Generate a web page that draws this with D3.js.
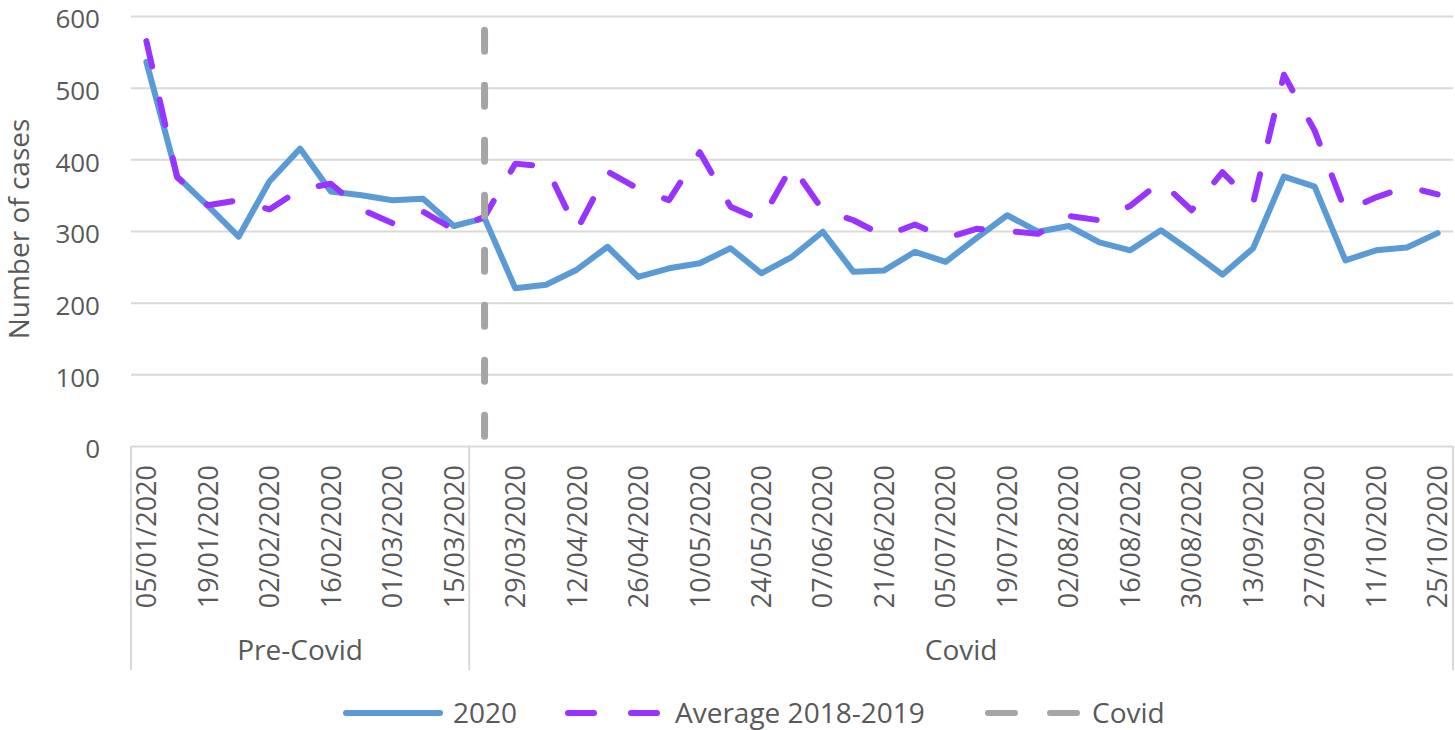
<!DOCTYPE html>
<html>
<head>
<meta charset="utf-8">
<script src="https://cdn.jsdelivr.net/npm/d3@7"></script>
<style>
  html, body { margin: 0; padding: 0; background: #fff; }
  svg text { font-family: "Open Sans", sans-serif; fill: #595959; }
</style>
</head>
<body>
<svg id="chart" width="1455" height="730"></svg>
<script>
// Week starting dates (categories)
const weeks = [
    "05/01/2020", "12/01/2020", "19/01/2020", "26/01/2020", "02/02/2020", "09/02/2020",
    "16/02/2020", "23/02/2020", "01/03/2020", "08/03/2020", "15/03/2020", "22/03/2020",
    "29/03/2020", "05/04/2020", "12/04/2020", "19/04/2020", "26/04/2020", "03/05/2020",
    "10/05/2020", "17/05/2020", "24/05/2020", "31/05/2020", "07/06/2020", "14/06/2020",
    "21/06/2020", "28/06/2020", "05/07/2020", "12/07/2020", "19/07/2020", "26/07/2020",
    "02/08/2020", "09/08/2020", "16/08/2020", "23/08/2020", "30/08/2020", "06/09/2020",
    "13/09/2020", "20/09/2020", "27/09/2020", "04/10/2020", "11/10/2020", "18/10/2020",
    "25/10/2020",
];

// Number of cases, 2020
const cases2020 = [
    536, 376, 335, 292, 369, 415, 355, 350, 343, 345, 307, 318,
    220, 225, 246, 278, 236, 248, 255, 276, 241, 264, 299, 243, 245, 271, 257,
    290, 322, 299, 307, 284, 273, 301, 271, 239, 276, 376, 362, 259, 273, 277, 297,
];

// Average 2018-2019
const casesAvg = [
    565, 375, 336, 343, 330, 358, 366, 330, 311, 327, 302, 320,
    394, 390, 301, 383, 359, 343, 410, 334, 315, 391, 329, 315, 293, 309, 290,
    303, 300, 296, 321, 315, 335, 369, 329, 382, 339, 518, 440, 328, 347, 362, 351,
];

// Period groups on the category axis
const periods = ["Pre-Covid", "Covid"];
const periodStarts = ["05/01/2020", "22/03/2020"];

// Covid marker (vertical dashed line)
const covidWeek = "22/03/2020";
const covidTop = 580;

const yTicks = [0, 100, 200, 300, 400, 500, 600];

const svg = d3.select("#chart");
const plotLeft = 131, plotRight = 1453, plotTop = 16, plotBottom = 446;

const x = d3.scaleBand().domain(weeks).range([plotLeft, plotRight]);
const cx = (d) => x(d) + x.bandwidth() / 2;
const y = d3.scaleLinear().domain([0, 600]).range([plotBottom, plotTop]);

// Gridlines + y tick labels
const yAxis = svg.append("g")
    .attr("transform", `translate(${plotLeft},0)`)
    .call(d3.axisLeft(y).tickValues(yTicks).tickSize(-(plotRight - plotLeft)).tickPadding(31));
yAxis.select(".domain").remove();
yAxis.selectAll("line").attr("stroke", "#D9D9D9").attr("stroke-width", 2);
yAxis.selectAll("text")
    .attr("dy", "0.46em")
    .style("font-size", "26px")
    .attr("fill", "#595959");

// Y title
svg.append("text")
    .attr("transform", `translate(29,229) rotate(-90)`)
    .attr("text-anchor", "middle")
    .style("font-size", "28px")
    .text("Number of cases");

// Category labels (every other week)
const xAxis = svg.append("g")
    .attr("transform", `translate(0,${plotBottom})`)
    .call(d3.axisBottom(x).tickValues(weeks.filter((d, i) => i % 2 === 0)).tickSize(0));
xAxis.select(".domain").remove();
xAxis.selectAll("text")
    .attr("transform", "rotate(-90)")
    .attr("x", -19)
    .attr("y", 0)
    .attr("dy", "0.36em")
    .attr("text-anchor", "end")
    .attr("fill", "#595959")
    .style("font-size", "27px");

// Group separators and labels
const groupEdges = periodStarts.map((d) => x(d)).concat([plotRight]);
svg.append("g").selectAll("line")
    .data(groupEdges)
    .join("line")
    .attr("x1", (d) => d).attr("x2", (d) => d)
    .attr("y1", plotBottom).attr("y2", 670)
    .attr("stroke", "#D9D9D9").attr("stroke-width", 2);

svg.append("g").selectAll("text")
    .data(periods)
    .join("text")
    .attr("x", (d, i) => (groupEdges[i] + groupEdges[i + 1]) / 2)
    .attr("y", 660)
    .attr("text-anchor", "middle")
    .style("font-size", "28px")
    .text((d) => d);

// Series
const line = d3.line()
    .x((d, i) => cx(weeks[i]))
    .y((d) => y(d));

svg.append("path")
    .datum(cases2020)
    .attr("d", line)
    .attr("fill", "none")
    .attr("stroke", "#5B9BD5")
    .attr("stroke-width", 6)
    .attr("stroke-linejoin", "round")
    .attr("stroke-linecap", "round");

svg.append("path")
    .datum(casesAvg)
    .attr("d", line)
    .attr("fill", "none")
    .attr("stroke", "#9933FF")
    .attr("stroke-width", 6)
    .attr("stroke-dasharray", "26,34")
    .attr("stroke-linejoin", "round")
    .attr("stroke-linecap", "round");

svg.append("line")
    .attr("x1", cx(covidWeek)).attr("x2", cx(covidWeek))
    .attr("y1", y(covidTop)).attr("y2", y(0))
    .attr("stroke", "#A5A5A5")
    .attr("stroke-width", 7)
    .attr("stroke-dasharray", "21,34")
    .attr("stroke-linecap", "round");

// Legend
const legendItems = [
    { name: "2020", color: "#5B9BD5", dash: null, x1: 346, x2: 440, tx: 453 },
    { name: "Average 2018-2019", color: "#9933FF", dash: "26,37", x1: 568, x2: 659, tx: 675 },
    { name: "Covid", color: "#A5A5A5", dash: "27,35", x1: 988, x2: 1079, tx: 1092 },
];
const legend = svg.append("g");
legendItems.forEach((d) => {
    legend.append("line")
        .attr("x1", d.x1).attr("x2", d.x2)
        .attr("y1", 713).attr("y2", 713)
        .attr("stroke", d.color)
        .attr("stroke-width", 6)
        .attr("stroke-linecap", "round")
        .attr("stroke-dasharray", d.dash);
    legend.append("text")
        .attr("x", d.tx)
        .attr("y", 723)
        .style("font-size", "28px")
        .text(d.name);
});
</script>
</body>
</html>
